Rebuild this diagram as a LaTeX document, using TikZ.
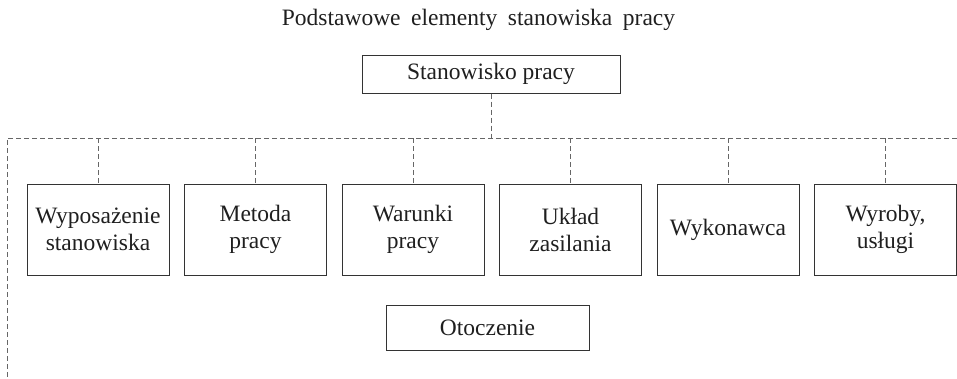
\documentclass[tikz,border=0pt]{standalone}
\usepackage{fontspec}
\setmainfont{Liberation Serif}
\begin{document}
\begin{tikzpicture}[x=1pt,y=-1pt,
  boxst/.style={draw=black!80,line width=1pt,inner sep=0pt,text=black!88,
    font=\fontsize{23.5}{27}\selectfont,align=center},
  dashst/.style={draw=black!60,line width=1pt,dash pattern=on 5pt off 3pt}]
\useasboundingbox (0,0) rectangle (957,378);
\node[text=black!88,font=\fontsize{23.5}{27}\selectfont] (title) at (478.5,20)
  {Podstawowe\hspace{0.45em}elementy\hspace{0.45em}stanowiska\hspace{0.45em}pracy};
\node[boxst,minimum width=258pt,minimum height=38pt] (top) at (491,74) {Stanowisko pracy};
\coordinate (bj) at (491,138);
\coordinate (bl) at (7,138);
\coordinate (br) at (957,138);
\coordinate (bb) at (7,378);
\foreach \i/\t in {0/{Wyposażenie\\stanowiska},1/{Metoda\\pracy},2/{Warunki\\pracy},3/{Układ\\zasilania},4/{Wykonawca},5/{Wyroby,\\usługi}}{
  \node[boxst,minimum width=142pt,minimum height=91pt] (b\i) at ({98+157.5*\i},229.5) {\t};
}
\node[boxst,minimum width=203pt,minimum height=45pt] (oto) at (487.5,327.5) {Otoczenie};
\draw[dashst] (top.south) -- (bj);
\draw[dashst] (br) -- (bl) -- (bb);
\foreach \i in {0,...,5}{
  \draw[dashst] (b\i.north |- bj) -- (b\i.north);
}
\end{tikzpicture}
\end{document}
